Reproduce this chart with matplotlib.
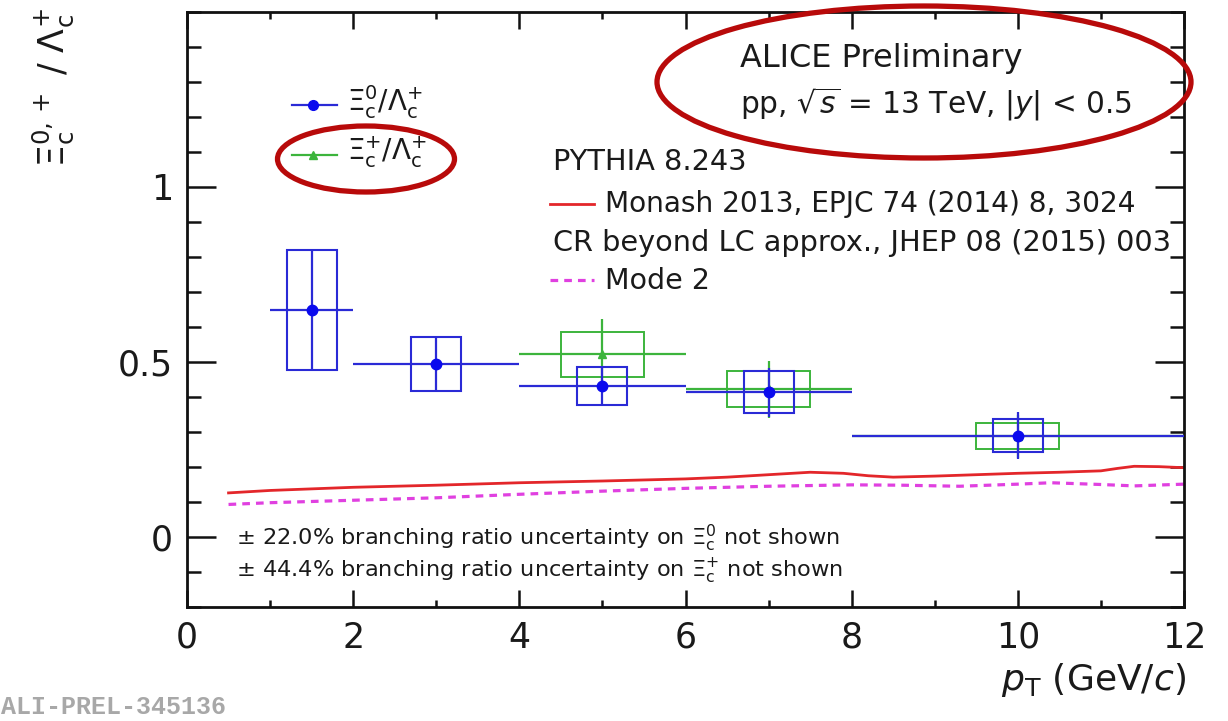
import matplotlib
matplotlib.use("Agg")
import matplotlib.pyplot as plt
from matplotlib.patches import Ellipse
from matplotlib.ticker import MultipleLocator

plt.rcParams['font.family'] = ['DejaVu Sans']
plt.rcParams['mathtext.fontset'] = 'dejavusans'

# ---------------- data ----------------
# Xi_c^0 / Lambda_c^+
xi0_pt = [1.5, 3.0, 5.0, 7.0, 10.0]
xi0_halfbin = [0.5, 1.0, 1.0, 1.0, 2.0]
xi0_val = [0.648, 0.494, 0.431, 0.414, 0.289]
xi0_stat = [0.172, 0.078, 0.055, 0.070, 0.067]
xi0_sys = [0.172, 0.078, 0.055, 0.060, 0.047]

# Xi_c^+ / Lambda_c^+
xip_pt = [5.0, 7.0, 10.0]
xip_halfbin = [1.0, 1.0, 2.0]
xip_val = [0.522, 0.422, 0.288]
xip_stat = [0.100, 0.082, 0.062]
xip_sys = [0.065, 0.052, 0.037]

# PYTHIA 8 Monash
monash_pt = [0.5, 1.0, 2.0, 3.0, 4.0, 5.0, 6.0, 6.5, 7.0, 7.5, 7.9, 8.2, 8.5, 9.0, 9.5, 10.0, 10.5, 11.0, 11.2, 11.4, 11.7, 12.0]
monash_val = [0.126, 0.133, 0.142, 0.148, 0.155, 0.160, 0.166, 0.171, 0.178, 0.185, 0.182, 0.175, 0.171, 0.174, 0.178, 0.182, 0.185, 0.189, 0.196, 0.202, 0.201, 0.198]

# PYTHIA 8 CR Mode 2
mode2_pt = [0.5, 1.0, 2.0, 3.0, 4.0, 5.0, 6.0, 7.0, 8.0, 8.6, 9.3, 10.0, 10.4, 11.0, 11.4, 12.0]
mode2_val = [0.093, 0.098, 0.105, 0.112, 0.122, 0.131, 0.139, 0.145, 0.149, 0.148, 0.145, 0.151, 0.155, 0.150, 0.146, 0.151]

xticks = [0, 2, 4, 6, 8, 10, 12]
yticks = [0, 0.5, 1]
ytick_labels = ['0', '0.5', '1']

# ---------------- style ----------------
BLUE = '#2a2ad6'
BLUE_M = '#0a0aee'
GREEN = '#3cb43c'
RED = '#e3262a'
MAG = '#e040e0'
TXT = '#1a1a1a'

W, H = 1228, 721
fig = plt.figure(figsize=(W / 100, H / 100), dpi=100)
ax = fig.add_axes([187 / W, 1 - 607 / H, (1184 - 187) / W, (607 - 12) / H])
ax.set_xlim(0, 12)
ax.set_ylim(-0.2, 1.5)

# model curves
ax.plot(monash_pt, monash_val, color=RED, lw=2.0, zorder=2)
ax.plot(mode2_pt, mode2_val, color=MAG, lw=2.3, dashes=(2.4, 1.9), zorder=2)

# Xi_c^+ (green) first
ax.bar(xip_pt, [2 * s for s in xip_sys], bottom=[v - s for v, s in zip(xip_val, xip_sys)],
       width=1.0, fill=False, edgecolor=GREEN, lw=1.4, zorder=3)
ax.errorbar(xip_pt, xip_val, xerr=xip_halfbin, yerr=xip_stat, fmt='^', color=GREEN,
            ms=6, elinewidth=1.6, capsize=0, zorder=3)

# Xi_c^0 (blue)
ax.bar(xi0_pt, [2 * s for s in xi0_sys], bottom=[v - s for v, s in zip(xi0_val, xi0_sys)],
       width=0.6, fill=False, edgecolor=BLUE, lw=1.5, zorder=4)
ax.errorbar(xi0_pt, xi0_val, xerr=xi0_halfbin, yerr=xi0_stat, fmt='o', color=BLUE,
            mfc=BLUE_M, mec=BLUE_M, ms=7.5, elinewidth=1.6, capsize=0, zorder=4)

# axes styling
for sp in ax.spines.values():
    sp.set_linewidth(2.0)
    sp.set_color('#111111')
ax.set_xticks(xticks)
ax.set_xticklabels([str(t) for t in xticks])
ax.set_yticks(yticks)
ax.set_yticklabels(ytick_labels)
ax.xaxis.set_minor_locator(MultipleLocator(1))
ax.yaxis.set_minor_locator(MultipleLocator(0.1))
ax.tick_params(which='both', direction='in', top=True, right=True, width=1.8, color='#111111')
ax.tick_params(axis='x', which='major', length=12, pad=10, labelsize=25, labelcolor=TXT)
ax.tick_params(axis='x', which='minor', length=5)
ax.tick_params(axis='y', which='major', length=21, pad=10, labelsize=25, labelcolor=TXT)
ax.tick_params(axis='y', which='minor', length=10)

# ---------------- overlay for text / legend / annotation ----------------
ov = fig.add_axes([0, 0, 1, 1], facecolor='none')
ov.set_xlim(0, W)
ov.set_ylim(H, 0)
ov.axis('off')

# axis titles
ov.text(53, 88, r'$\Xi_{\mathrm{c}}^{0,+}$ / $\Lambda_{\mathrm{c}}^{+}$', rotation=90,
        ha='center', va='center', fontsize=25, color=TXT)
ov.text(1186, 680, r'$p_{\mathrm{T}}$ (GeV/$c$)', ha='right', va='center', fontsize=26, color=TXT)

# data legend
ov.plot([292, 337], [105, 105], color=BLUE, lw=1.6)
ov.plot([313], [105], 'o', color=BLUE_M, ms=7)
ov.text(347, 102, r'$\Xi_{\mathrm{c}}^{0}/\Lambda_{\mathrm{c}}^{+}$', ha='left', va='center', fontsize=20, color=TXT)
ov.plot([292, 337], [155, 155], color=GREEN, lw=1.6)
ov.plot([313], [155], '^', color=GREEN, ms=6)
ov.text(347, 152, r'$\Xi_{\mathrm{c}}^{+}/\Lambda_{\mathrm{c}}^{+}$', ha='left', va='center', fontsize=20, color=TXT)

# ALICE labels
ov.text(740, 58, 'ALICE Preliminary', ha='left', va='center', fontsize=23, color=TXT)
ov.text(740, 104, r'pp, $\sqrt{s}$ = 13 TeV, $|y|$ < 0.5', ha='left', va='center', fontsize=21.3, color=TXT)

# model legend
ov.text(553, 162, 'PYTHIA 8.243', ha='left', va='center', fontsize=20.7, color=TXT)
ov.plot([550, 594], [204, 204], color=RED, lw=2.0)
ov.text(605, 204, 'Monash 2013, EPJC 74 (2014) 8, 3024', ha='left', va='center', fontsize=20.2, color=TXT)
ov.text(553, 243, 'CR beyond LC approx., JHEP 08 (2015) 003', ha='left', va='center', fontsize=20.7, color=TXT)
ov.plot([550, 594], [280, 280], color=MAG, lw=2.3, dashes=(2.4, 1.9))
ov.text(605, 281, 'Mode 2', ha='left', va='center', fontsize=20.5, color=TXT)

# branching-ratio notes
ov.text(236, 538, r'$\pm$ 22.0% branching ratio uncertainty on $\Xi_{\mathrm{c}}^{0}$ not shown',
        ha='left', va='center', fontsize=16.2, color=TXT)
ov.text(236, 571, r'$\pm$ 44.4% branching ratio uncertainty on $\Xi_{\mathrm{c}}^{+}$ not shown',
        ha='left', va='center', fontsize=16.2, color=TXT)

# preliminary ID
ov.text(1, 719, 'ALI-PREL-345136', ha='left', va='bottom', fontsize=18, color='#a8a8a8',
        family='Liberation Mono', fontweight='bold')

# red annotation ellipses
ov.add_patch(Ellipse((924, 82), 534, 152, fill=False, edgecolor='#b80a0a', lw=3.8))
ov.add_patch(Ellipse((366, 159), 177, 66, fill=False, edgecolor='#b80a0a', lw=3.8))

fig.savefig('out.png', dpi=100)
